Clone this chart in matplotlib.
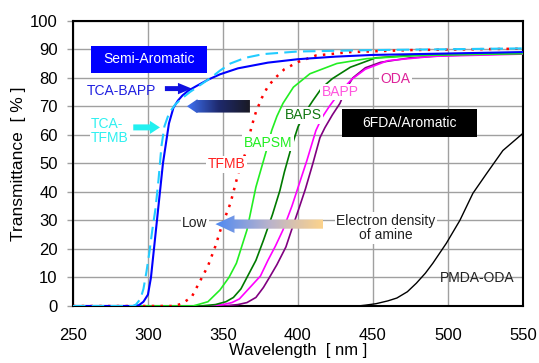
import numpy as np
import matplotlib
matplotlib.use('Agg')
import matplotlib.pyplot as plt
from matplotlib.patches import Polygon, Rectangle
from matplotlib.colors import LinearSegmentedColormap

plt.rcParams['font.family'] = ['Liberation Sans', 'DejaVu Sans']

# transmittance spectra (wavelength nm, transmittance %)
wl_tca_bapp = [250, 290, 294, 297, 300, 302, 304, 306, 308, 310, 312, 314, 317, 320, 323, 327, 332, 340, 348, 360, 380, 400, 425, 450, 500, 550]
t_tca_bapp = [0, 0, 0.3, 1.5, 4, 10, 20, 30, 40, 50, 57, 64, 69.5, 72, 73.8, 75.5, 77, 79.3, 81.2, 83.3, 85.3, 86.5, 87.4, 88, 88.5, 89]

wl_tca_tfmb = [250, 290, 292, 295, 297, 299, 301, 303, 305, 307, 309, 311, 314, 318, 322, 328, 335, 342, 348, 355, 365, 377, 400, 450, 500, 550]
t_tca_tfmb = [0, 0, 0.5, 2.5, 6, 12, 19, 27, 34, 44, 56, 63, 67.5, 70.5, 72.5, 75, 77.5, 80, 82.5, 85, 87, 88.3, 89.2, 89.7, 90, 90.3]

wl_tfmb = [250, 317, 322, 329, 335, 340, 345, 349, 355, 358, 361, 365, 369, 372, 376, 380, 385, 391, 400, 412, 435, 475, 550]
t_tfmb = [0, 0, 0.7, 3, 9, 14, 21, 27.7, 36, 42, 48, 53.5, 62.7, 68, 73, 77, 80, 83, 85.5, 87.8, 89, 89.7, 90.2]

wl_bapsm = [250, 330, 340, 348, 354, 359, 366, 372, 379, 382.5, 386, 390, 397, 408, 426, 446, 480, 550]
t_bapsm = [0, 0, 1.5, 5.6, 10, 15, 26.6, 41.7, 54.5, 61.5, 66.5, 71, 76.7, 81.4, 85, 86.7, 87.8, 88.5]

wl_baps = [250, 335, 345, 352, 357, 362, 366, 372, 377, 383, 388, 391, 395, 400, 405, 410, 416, 423, 435, 452, 480, 550]
t_baps = [0, 0, 0.5, 1.5, 3, 6, 10, 16, 23, 32, 40.5, 47, 54.5, 62.7, 68, 72, 76.5, 79.7, 83.7, 87, 88, 88.5]

wl_bapp = [250, 340, 350, 356, 361, 368, 375, 380, 385, 390, 396, 401, 406, 410, 412, 416, 421, 428, 436, 445, 460, 490, 550]
t_bapp = [0, 0, 0.5, 1.2, 2.5, 6.5, 10.5, 16, 21, 26.6, 35, 43, 51, 58, 61.5, 66, 70, 75, 79.5, 83, 86, 87.5, 88.3]

wl_oda = [250, 350, 360, 366, 372, 377, 381, 386, 392, 396, 401, 405, 410, 414.7, 418, 423, 428, 432, 436.7, 445, 455, 475, 500, 550]
t_oda = [0, 0, 0.5, 1.2, 3, 6.5, 10, 14.5, 20.7, 27, 34.7, 41, 50, 59, 62.5, 67, 71, 76, 80, 83.5, 85.4, 87, 87.8, 88.5]

wl_pmda = [250, 440, 445, 452, 460, 466, 473, 479, 485, 490, 499, 508, 516.7, 525.8, 536.7, 550]
t_pmda = [0, 0, 0.3, 0.8, 1.8, 2.8, 5, 8, 11.5, 15, 22, 30, 39.5, 46.4, 54.5, 60.5]

x_ticks = [250, 300, 350, 400, 450, 500, 550]
y_ticks = list(range(0, 101, 10))


def arrow_verts(x_tail, x_tip, y, half_h, head_half, head_len):
    d = 1 if x_tip > x_tail else -1
    xb = x_tip - d * head_len
    return [(x_tip, y), (xb, y + head_half), (xb, y + half_h), (x_tail, y + half_h),
            (x_tail, y - half_h), (xb, y - half_h), (xb, y - head_half)]


def solid_arrow(ax, x_tail, x_tip, y, half_h, head_half, head_len, color):
    p = Polygon(arrow_verts(x_tail, x_tip, y, half_h, head_half, head_len),
                closed=True, fc=color, ec='none', zorder=6)
    ax.add_patch(p)


def gradient_arrow(ax, x_tail, x_tip, y, half_h, head_half, head_len, colors):
    p = Polygon(arrow_verts(x_tail, x_tip, y, half_h, head_half, head_len),
                closed=True, fc='none', ec='none', zorder=6)
    ax.add_patch(p)
    cmap = LinearSegmentedColormap.from_list('grad', colors)
    grad = np.linspace(0, 1, 256).reshape(1, -1)
    im = ax.imshow(grad, cmap=cmap, aspect='auto', zorder=6,
                   extent=(x_tip, x_tail, y - head_half, y + head_half))
    im.set_clip_path(p)


fig = plt.figure(figsize=(5.39, 3.63), dpi=100)
ax = fig.add_axes([0.1354, 0.157, 0.8346, 0.786])

ax.plot(wl_pmda, t_pmda, color='black', lw=1.0, zorder=3)
ax.plot(wl_oda, t_oda, color='#800080', lw=1.2, zorder=3)
ax.plot(wl_bapp, t_bapp, color='#FF00FF', lw=1.2, zorder=3)
ax.plot(wl_baps, t_baps, color='#007A00', lw=1.2, zorder=3)
ax.plot(wl_bapsm, t_bapsm, color='#22EE22', lw=1.2, zorder=3)
ax.plot(wl_tfmb, t_tfmb, color='#FF0000', lw=1.8, ls=(0, (1, 2.5)), zorder=3)
ax.plot(wl_tca_bapp, t_tca_bapp, color='#0000FF', lw=1.5, zorder=4)
ax.plot(wl_tca_tfmb, t_tca_tfmb, color='#22CCFF', lw=1.5, ls=(0, (6, 3)), zorder=4)

ax.set_xlim(250, 550)
ax.set_ylim(0, 100)
ax.set_xticks(x_ticks)
ax.set_yticks(y_ticks)
ax.grid(True, color='#A0A0A0', lw=1.0, zorder=0)
ax.set_axisbelow(True)
for s in ax.spines.values():
    s.set_linewidth(1.5)
    s.set_color('black')
ax.tick_params(axis='x', length=0, pad=16, labelsize=12)
ax.tick_params(axis='y', length=4, width=1, color='#A0A0A0', pad=7, labelsize=12)
ax.set_xlabel('Wavelength  [ nm ]', fontsize=12, labelpad=0)
ax.set_ylabel('Transmittance  [ % ]', fontsize=12.5, labelpad=3)

# boxes with group names
ax.add_patch(Rectangle((262, 81.5), 77.3, 9.8, fc='#0000FF', ec='none', zorder=6))
ax.text(300.7, 86.4, 'Semi-Aromatic', color='white', fontsize=10, ha='center', va='center', zorder=7)
ax.add_patch(Rectangle((429.3, 59.2), 90, 10, fc='black', ec='none', zorder=6))
ax.text(474.3, 64.2, '6FDA/Aromatic', color='white', fontsize=10, ha='center', va='center', zorder=7)

white = dict(fc='white', ec='none', pad=1.0)
ax.text(259.3, 75.5, 'TCA-BAPP', color='#2020E0', fontsize=10, ha='left', va='center', zorder=7)
ax.text(262, 61.2, 'TCA-\nTFMB', color='#2EF0F0', fontsize=10, ha='left', va='center',
        linespacing=1.0, zorder=7, bbox=white)
ax.text(352.4, 49.6, 'TFMB', color='#FF2020', fontsize=10, ha='center', va='center', zorder=7, bbox=white)
ax.text(380, 57.3, 'BAPSM', color='#22EE22', fontsize=10, ha='center', va='center', zorder=7, bbox=white)
ax.text(403.7, 66.8, 'BAPS', color='#117711', fontsize=10, ha='center', va='center', zorder=7, bbox=white)
ax.text(428, 75, 'BAPP', color='#FF55DD', fontsize=10, ha='center', va='center', zorder=7, bbox=white)
ax.text(465, 79.7, 'ODA', color='#DD2299', fontsize=10, ha='center', va='center', zorder=7, bbox=white)
ax.text(331.3, 29, 'Low', color='#222222', fontsize=10, ha='center', va='center', zorder=7, bbox=white)
ax.text(458.5, 27.3, 'Electron density\nof amine', color='#222222', fontsize=10, ha='center',
        va='center', linespacing=1.05, zorder=7, bbox=white)
ax.text(519.7, 9.9, 'PMDA-ODA', color='#222222', fontsize=10, ha='center', va='center', zorder=7)

solid_arrow(ax, 311.3, 329.3, 76.2, 0.87, 2.0, 9.3, '#1010E0')
solid_arrow(ax, 290.2, 308, 62.6, 1.05, 2.3, 6.7, '#22F0F0')
gradient_arrow(ax, 368, 326, 70, 2.2, 2.5, 7, ['#3F72F5', '#1E2A6E', '#1A1A24'])
gradient_arrow(ax, 417, 345, 28.7, 1.6, 3.1, 12.7, ['#4D88F2', '#B9B3CC', '#FCD38C'])

ax.set_xlim(250, 550)
ax.set_ylim(0, 100)

fig.savefig('out.png', dpi=100)
